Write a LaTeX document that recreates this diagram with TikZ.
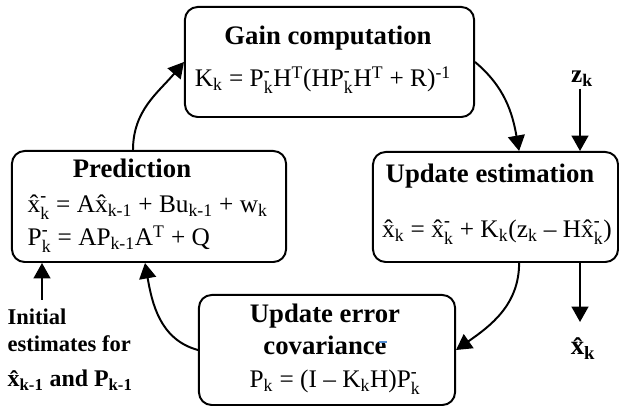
\documentclass[tikz,border=0pt]{standalone}
\usepackage{fontspec}
\usepackage{amsmath}
\setmainfont{Liberation Serif}
\usetikzlibrary{arrows.meta}

\definecolor{caret}{RGB}{80,140,210}

\newcommand{\xhat}{\^{x}}
\newcommand{\XK}{\ensuremath{\text{\^{x}}_{\text{k}}^{\text{\bfseries -}}}}
\newcommand{\PK}{\ensuremath{\text{P}_{\text{k}}^{\text{\bfseries -}}}}

\tikzset{
  box/.style={draw, line width=1.4pt, rounded corners=9pt, minimum height=2.75cm},
  title/.style={font=\bfseries\fontsize{19}{23}\selectfont, anchor=base, inner sep=1pt},
  eq/.style={font=\fontsize{18}{22}\selectfont, anchor=base, inner sep=1pt},
  lbl/.style={font=\bfseries\fontsize{16}{20}\selectfont, anchor=base, inner sep=1pt},
  flow/.style={line width=1.4pt, -{Triangle[width=12pt,length=11pt]}}
}

\begin{document}
\begin{tikzpicture}[x=0.025cm, y=0.025cm]
  \useasboundingbox (0,0) rectangle (619,407);
  \node[box, minimum width=7.225cm] (gain) at (329.5,345) {};
  \node[box, minimum width=6.85cm, minimum height=2.775cm] (pred) at (149,200.5) {};
  \node[box, minimum width=6.125cm] (upd) at (495.5,200) {};
  \node[box, minimum width=6.4cm] (cov) at (327,57) {};

  \node[title] (gain title) at (328,362) {Gain computation};
  \node[eq] (gain eq) at (323,320) {K\textsubscript{k} = \PK{}H\textsuperscript{T}(H\PK{}H\textsuperscript{T} + R)\textsuperscript{-1}};
  \node[title] (pred title) at (132,229) {Prediction};
  \node[eq, anchor=base west] (pred eq1) at (26,194) {\XK{} = A\xhat\textsubscript{k-1} + Bu\textsubscript{k-1} + w\textsubscript{k}};
  \node[eq, anchor=base west] (pred eq2) at (26,161) {\PK{} = AP\textsubscript{k-1}A\textsuperscript{T} + Q};
  \node[title] (upd title) at (490,224) {Update estimation};
  \node[eq] (upd eq) at (497,169) {\xhat\textsubscript{k} = \XK{} + K\textsubscript{k}(z\textsubscript{k} -- H\XK)};
  \node[title] (cov title) at (325,84) {Update error};
  \node[title] (cov title2) at (325,52) {covariance};
  \node[eq] (cov eq) at (335,19) {P\textsubscript{k} = (I -- K\textsubscript{k}H)\PK};
  \draw[line width=1pt, caret] (379,65) -- (387,65);

  \node[lbl, font=\bfseries\fontsize{18}{22}\selectfont] (zk) at (582,324) {z\textsubscript{k}};
  \node[lbl, font=\bfseries\fontsize{19}{23}\selectfont] (xk) at (583,52) {\xhat\textsubscript{k}};
  \node[lbl, anchor=base west] (init1) at (6,82) {Initial};
  \node[lbl, anchor=base west] (init2) at (6,55) {estimates for};
  \node[lbl, anchor=base west, font=\bfseries\fontsize{17}{21}\selectfont] (init3) at (6,20) {\xhat\textsubscript{k-1} and P\textsubscript{k-1}};
  \coordinate (init top) at (42,107);
  \coordinate (xk top) at (580,85);

  \draw[flow] ([xshift=-0.4cm]pred.north) to[out=90, in=230] (gain.west);
  \draw[flow] (gain.east) to[out=-40, in=100] ([xshift=0.59cm]upd.north);
  \draw[flow] (zk.south -| xk top) -- (upd.north -| xk top);
  \draw[flow] ([xshift=0.59cm]upd.south) to[out=-90, in=35] (cov.east);
  \draw[flow] (cov.west) to[out=165, in=-80] ([xshift=-0.1cm]pred.south);
  \draw[flow] (upd.south -| xk top) -- (xk top);
  \draw[flow] (init top) -- (init top |- pred.south);
\end{tikzpicture}
\end{document}
